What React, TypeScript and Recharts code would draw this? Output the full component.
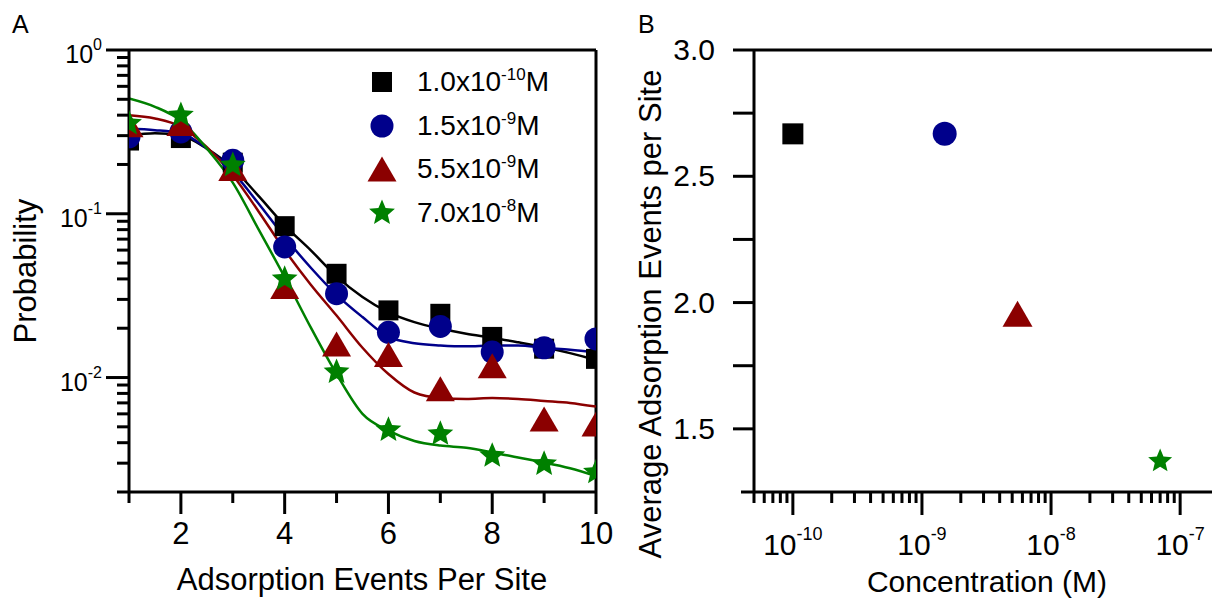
import React from "react";
import {
  ComposedChart,
  ScatterChart,
  Line,
  Scatter,
  XAxis,
  YAxis,
  ReferenceLine,
  Legend,
} from "recharts";

// panel A: measured probabilities at each event count
const events = [1, 2, 3, 4, 5, 6, 7, 8, 9, 10];
const probBlack = [0.28, 0.29, 0.205, 0.084, 0.043, 0.0257, 0.0245, 0.0177, 0.015, 0.013];
const probBlue = [0.295, 0.316, 0.212, 0.0627, 0.0325, 0.0189, 0.0205, 0.0143, 0.0152, 0.0172];
const probRed = [0.35, 0.356, 0.189, 0.036, 0.016, 0.0138, 0.00853, 0.0118, 0.00559, 0.00521];
const probGreen = [0.356, 0.4, 0.198, 0.04, 0.0108, 0.00479, 0.00453, 0.00333, 0.00297, 0.00264];

// panel A: fitted curves
const fitX = [1, 1.5, 2, 2.5, 3, 3.5, 4, 4.5, 5, 5.5, 6, 6.5, 7, 7.5, 8, 8.5, 9, 9.5, 10];
const fitBlack = [0.3, 0.31, 0.3, 0.25, 0.19, 0.128, 0.085, 0.06, 0.0415, 0.031, 0.025, 0.0218, 0.0199, 0.0185, 0.0175, 0.0164, 0.0153, 0.0141, 0.0128];
const fitBlue = [0.33, 0.324, 0.31, 0.25, 0.18, 0.115, 0.072, 0.047, 0.032, 0.0234, 0.0177, 0.0162, 0.0157, 0.0155, 0.0157, 0.0157, 0.0152, 0.0148, 0.0143];
const fitRed = [0.4, 0.382, 0.34, 0.255, 0.172, 0.103, 0.06, 0.037, 0.0239, 0.0152, 0.0105, 0.0081, 0.0075, 0.0074, 0.0075, 0.0074, 0.0072, 0.007, 0.00665];
const fitGreen = [0.506, 0.45, 0.37, 0.25, 0.155, 0.08, 0.041, 0.0203, 0.0105, 0.006, 0.00474, 0.0041, 0.00384, 0.00372, 0.00349, 0.00325, 0.00303, 0.00279, 0.0025];

// panel B: average events per site vs concentration
const concentrations = [1.0e-10, 1.5e-9, 5.5e-9, 7.0e-8];
const avgEvents = [2.668, 2.668, 1.956, 1.372];

const legendMantissa = ["1.0", "1.5", "5.5", "7.0"];
const legendExponent = ["-10", "-9", "-9", "-8"];

const eventTicks = [1, 2, 3, 4, 5, 6, 7, 8, 9, 10];
const probTicks = [
  0.002, 0.003, 0.004, 0.005, 0.006, 0.007, 0.008, 0.009,
  0.01, 0.02, 0.03, 0.04, 0.05, 0.06, 0.07, 0.08, 0.09,
  0.1, 0.2, 0.3, 0.4, 0.5, 0.6, 0.7, 0.8, 0.9, 1,
];
const avgTicks = [1.25, 1.5, 1.75, 2.0, 2.25, 2.5, 2.75, 3.0];
const concTicks = [
  5e-11, 6e-11, 7e-11, 8e-11, 9e-11,
  1e-10, 2e-10, 3e-10, 4e-10, 5e-10, 6e-10, 7e-10, 8e-10, 9e-10,
  1e-9, 2e-9, 3e-9, 4e-9, 5e-9, 6e-9, 7e-9, 8e-9, 9e-9,
  1e-8, 2e-8, 3e-8, 4e-8, 5e-8, 6e-8, 7e-8, 8e-8, 9e-8,
  1e-7, 2e-7,
];

const COLORS = ["#000000", "#00008b", "#8b0000", "#008000"];
const KINDS = ["square", "circle", "triangle", "star"];
const FONT = "'Liberation Sans', Arial, Helvetica, sans-serif";

const isDecade = (v: number) => {
  const e = Math.log10(v);
  return Math.abs(e - Math.round(e)) < 1e-6;
};

const Mark = ({ kind, cx, cy, color, s }: any) => {
  if (cx == null || cy == null) return null;
  if (kind === "square") {
    return <rect x={cx - s / 2} y={cy - s / 2} width={s} height={s} fill={color} />;
  }
  if (kind === "circle") {
    return <circle cx={cx} cy={cy} r={s / 2 + 1.5} fill={color} />;
  }
  if (kind === "triangle") {
    const w = s + 9;
    const h = s + 5;
    const pts = `${cx},${cy - h / 2} ${cx + w / 2},${cy + h / 2} ${cx - w / 2},${cy + h / 2}`;
    return <polygon points={pts} fill={color} />;
  }
  const R = s * 0.68;
  const r = R * 0.45;
  const pts: string[] = [];
  for (let i = 0; i < 10; i++) {
    const a = -Math.PI / 2 + (i * Math.PI) / 5;
    const rad = i % 2 === 0 ? R : r;
    pts.push(`${cx + rad * Math.cos(a)},${cy + rad * Math.sin(a)}`);
  }
  return <polygon points={pts.join(" ")} fill={color} />;
};

const ProbTick = ({ x, y, payload }: any) => {
  const v = payload.value;
  const major = isDecade(v);
  const exp = Math.round(Math.log10(v));
  return (
    <g>
      <line x1={x} x2={x - (major ? 23 : 12)} y1={y} y2={y} stroke="#000" strokeWidth={3} />
      {major ? (
        <text x={x - 27} y={y + 13} textAnchor="end" fontSize={25} fontFamily={FONT} fill="#000">
          10
          <tspan dy={-13} fontSize={16}>
            {exp === 0 ? "0" : `${exp}`}
          </tspan>
        </text>
      ) : null}
    </g>
  );
};

const EventTick = ({ x, y, payload }: any) => {
  const v = payload.value;
  const major = v % 2 === 0;
  return (
    <g>
      <line x1={x} x2={x} y1={y} y2={y + (major ? 22 : 11)} stroke="#000" strokeWidth={3} />
      {major ? (
        <text x={x} y={y + 52} textAnchor="middle" fontSize={31} fontFamily={FONT} fill="#000">
          {v}
        </text>
      ) : null}
    </g>
  );
};

const AvgTick = ({ x, y, payload }: any) => {
  const v = payload.value;
  const labelled = Math.abs(v * 2 - Math.round(v * 2)) < 1e-6;
  return (
    <g>
      <line x1={x} x2={x - (v === 1.25 ? 13 : 21)} y1={y} y2={y} stroke="#000" strokeWidth={3} />
      {labelled ? (
        <text x={x - 39} y={y + 10} textAnchor="end" fontSize={30} fontFamily={FONT} fill="#000">
          {v.toFixed(1)}
        </text>
      ) : null}
    </g>
  );
};

const ConcTick = ({ x, y, payload }: any) => {
  const v = payload.value;
  const major = isDecade(v);
  const exp = Math.round(Math.log10(v));
  return (
    <g>
      <line x1={x} x2={x} y1={y} y2={y + (major ? 23 : 11)} stroke="#000" strokeWidth={3} />
      {major ? (
        <text x={x} y={y + 63} textAnchor="middle" fontSize={30} fontFamily={FONT} fill="#000">
          10
          <tspan dy={-15} fontSize={18}>
            {`${exp}`}
          </tspan>
        </text>
      ) : null}
    </g>
  );
};

const renderLegend = () => (
  <div style={{ fontFamily: FONT, fontSize: 28, color: "#000" }}>
    {legendMantissa.map((m, i) => (
      <div key={m + i} style={{ display: "flex", alignItems: "center", height: 43.7 }}>
        <svg width={34} height={34} style={{ overflow: "visible" }}>
          <Mark kind={KINDS[i]} cx={17} cy={17} color={COLORS[i]} s={20} />
        </svg>
        <span style={{ marginLeft: 18, whiteSpace: "nowrap" }}>
          {m}x10
          <span style={{ fontSize: 17, position: "relative", top: -11 }}>{legendExponent[i]}</span>M
        </span>
      </div>
    ))}
  </div>
);

const probSeries = [probBlack, probBlue, probRed, probGreen];
const fitSeries = [fitBlack, fitBlue, fitRed, fitGreen];

export default function App() {
  return (
    <div
      style={{
        position: "absolute",
        left: 0,
        top: 0,
        width: 1212,
        height: 602,
        overflow: "hidden",
        background: "#fff",
        fontFamily: FONT,
      }}
    >
      <div style={{ position: "absolute", left: 0, top: 0 }}>
        <ComposedChart width={620} height={602} margin={{ top: 50, right: 24, bottom: 0, left: 0 }}>
          <XAxis
            type="number"
            dataKey="x"
            domain={[1, 10]}
            ticks={eventTicks}
            interval={0}
            allowDataOverflow
            height={110}
            tickSize={0}
            tickMargin={0}
            tickLine={false}
            axisLine={{ stroke: "#000", strokeWidth: 3 }}
            tick={(p: any) => <EventTick {...p} />}
          />
          <YAxis
            type="number"
            scale="log"
            domain={[0.002, 1]}
            ticks={probTicks}
            interval={0}
            allowDataOverflow
            width={129}
            tickSize={0}
            tickMargin={0}
            tickLine={false}
            axisLine={{ stroke: "#000", strokeWidth: 3 }}
            tick={(p: any) => <ProbTick {...p} />}
          />
          <ReferenceLine y={1} stroke="#000" strokeWidth={3} />
          <ReferenceLine x={10} stroke="#000" strokeWidth={3} />
          {probSeries.map((vals, i) => (
            <Scatter
              key={`pts-${i}`}
              data={events.map((x, j) => ({ x, y: vals[j] }))}
              dataKey="y"
              isAnimationActive={false}
              shape={(p: any) => <Mark kind={KINDS[i]} cx={p.cx} cy={p.cy} color={COLORS[i]} s={20} />}
            />
          ))}
          {fitSeries.map((vals, i) => (
            <Line
              key={`fit-${i}`}
              data={fitX.map((x, j) => ({ x, y: vals[j] }))}
              dataKey="y"
              type="monotone"
              stroke={COLORS[i]}
              strokeWidth={2.5}
              dot={false}
              activeDot={false}
              isAnimationActive={false}
            />
          ))}
          <Legend
            layout="vertical"
            align="center"
            verticalAlign="middle"
            content={renderLegend}
            wrapperStyle={{ position: "absolute", left: 365, top: 60, width: 230 }}
          />
        </ComposedChart>
      </div>

      <div style={{ position: "absolute", left: 620, top: 0 }}>
        <ScatterChart width={620} height={602} margin={{ top: 50, right: 21, bottom: 0, left: 0 }}>
          <XAxis
            type="number"
            dataKey="c"
            scale="log"
            domain={[5e-11, 2e-7]}
            ticks={concTicks}
            interval={0}
            allowDataOverflow
            height={110}
            tickSize={0}
            tickMargin={0}
            tickLine={false}
            axisLine={{ stroke: "#000", strokeWidth: 3 }}
            tick={(p: any) => <ConcTick {...p} />}
          />
          <YAxis
            type="number"
            dataKey="v"
            domain={[1.25, 3]}
            ticks={avgTicks}
            interval={0}
            allowDataOverflow
            width={134}
            tickSize={0}
            tickMargin={0}
            tickLine={false}
            axisLine={{ stroke: "#000", strokeWidth: 3 }}
            tick={(p: any) => <AvgTick {...p} />}
          />
          <ReferenceLine y={3} stroke="#000" strokeWidth={3} />
          {concentrations.map((c, i) => (
            <Scatter
              key={`avg-${i}`}
              data={[{ c, v: avgEvents[i] }]}
              isAnimationActive={false}
              shape={(p: any) => (
                <Mark kind={KINDS[i]} cx={p.cx} cy={p.cy} color={COLORS[i]} s={i === 3 ? 18.5 : 21} />
              )}
            />
          ))}
        </ScatterChart>
      </div>

      <svg
        width={1212}
        height={602}
        style={{ position: "absolute", left: 0, top: 0, pointerEvents: "none" }}
        fontFamily={FONT}
      >
        <text x={12} y={33} fontSize={25}>A</text>
        <text x={638} y={33} fontSize={25}>B</text>
        <text x={362} y={590} fontSize={31} textAnchor="middle">Adsorption Events Per Site</text>
        <text x={987} y={592} fontSize={30} textAnchor="middle">Concentration (M)</text>
        <text x={36} y={271} fontSize={31} textAnchor="middle" transform="rotate(-90 36 271)">
          Probability
        </text>
        <text x={661} y={314} fontSize={31} textAnchor="middle" transform="rotate(-90 661 314)">
          Average Adsorption Events per Site
        </text>
      </svg>
    </div>
  );
}
